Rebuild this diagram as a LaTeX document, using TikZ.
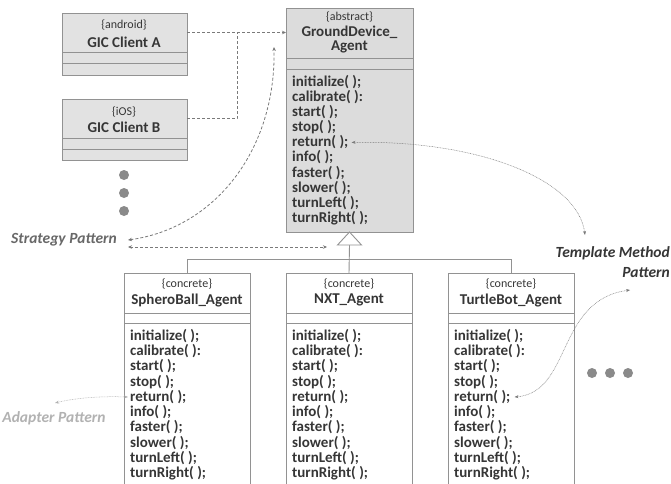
\documentclass[tikz,border=0pt]{standalone}
\usepackage{fontspec}
\setmainfont{Carlito}
\usetikzlibrary{arrows.meta}
\definecolor{edge}{HTML}{929292}
\definecolor{txt}{HTML}{363636}
\definecolor{gfill}{HTML}{DCDCDC}
\definecolor{cfill}{HTML}{E2E2E2}
\definecolor{dash}{HTML}{7A7A7A}
\definecolor{dotc}{HTML}{8A8A8A}
\tikzset{
  compart/.style={draw=edge, line width=0.9pt, anchor=north west, inner sep=0pt, outer sep=0pt},
  stereo/.style={font=\fontsize{12}{13}\selectfont, text=txt, inner sep=0pt},
  cname/.style={font=\bfseries\fontsize{15}{17}\selectfont, text=txt, inner sep=0pt, align=center},
  meth/.style={font=\bfseries\fontsize{15}{15}\selectfont, text=txt, anchor=west, inner sep=0pt},
  patt/.style={font=\bfseries\itshape\fontsize{15.5}{20}\selectfont, inner sep=0pt},
  dashconn/.style={draw=dash, line width=0.8pt, dash pattern=on 3pt off 2pt, {Stealth[length=4pt,width=3.5pt]}-{Stealth[length=4pt,width=3.5pt]}},
  dotconn/.style={draw=dash, line width=0.5pt, dash pattern=on 0.8pt off 0.8pt, {Stealth[length=4pt,width=3pt]}-{Stealth[length=4pt,width=3pt]}},
  hier/.style={draw=edge, line width=0.9pt},
  bigdot/.style={circle, fill=dotc, inner sep=0pt, minimum size=10pt},
}
\begin{document}
\begin{tikzpicture}[x=1pt, y=-1pt]
\useasboundingbox (0,0) rectangle (671,483);
\clip (0,0) rectangle (671,483);
\fill[white] (0,0) rectangle (671,483);

% GIC Client A
\node[compart, fill=cfill, minimum width=125pt, minimum height=39pt] (ah) at (62,13) {};
\node[compart, fill=cfill, minimum width=125pt, minimum height=11pt] (aa) at (ah.south west) {};
\node[compart, fill=cfill, minimum width=125pt, minimum height=12pt] (am) at (aa.south west) {};
\node[stereo] (at1) at (124,25) {\{android\}};
\node[cname] (at2) at (124,42) {GIC Client A};

% GIC Client B
\node[compart, fill=cfill, minimum width=125pt, minimum height=39pt] (bh) at (62,99) {};
\node[compart, fill=cfill, minimum width=125pt, minimum height=11pt] (ba) at (bh.south west) {};
\node[compart, fill=cfill, minimum width=125pt, minimum height=11pt] (bm) at (ba.south west) {};
\node[stereo] (bt1) at (124,112) {\{iOS\}};
\node[cname] (bt2) at (124,127) {GIC Client B};

% dots
\node[bigdot] (d1) at (124,175) {};
\node[bigdot] (d2) at (124,193) {};
\node[bigdot] (d3) at (124,211) {};
\node[bigdot] (d4) at (592,373) {};
\node[bigdot] (d5) at (610,373) {};
\node[bigdot] (d6) at (628,373) {};

% GroundDevice_Agent
\node[compart, fill=gfill, minimum width=127pt, minimum height=50pt] (gh) at (286,8) {};
\node[compart, fill=gfill, minimum width=127pt, minimum height=11pt] (ga) at (gh.south west) {};
\node[compart, fill=gfill, minimum width=127pt, minimum height=163pt] (gm) at (ga.south west) {};
\node[stereo] (gt1) at (349.5,17) {\{abstract\}};
\node[cname] (gt2) at (349.5,32) {GroundDevice\_};
\node[cname] (gt3) at (349.5,47) {Agent};
\foreach \m [count=\i] in {{initialize( );},{calibrate( ):},{start( );},{stop( );},{return( );},{info( );},{faster( );},{slower( );},{turnLeft( );},{turnRight( );}}
  \node[meth] (g-\i) at (292,{82+15.1*(\i-1)}) {\m};

% concrete classes
\foreach \nm/\x/\title in {s/124/SpheroBall\_Agent, n/286/NXT\_Agent, t/448/TurtleBot\_Agent}{
  \node[compart, fill=white, minimum width=126pt, minimum height=40pt] (\nm h) at (\x,273) {};
  \node[compart, fill=white, minimum width=126pt, minimum height=10pt] (\nm a) at (\nm h.south west) {};
  \node[compart, fill=white, minimum width=126pt, minimum height=180pt] (\nm m) at (\nm a.south west) {};
  \node[stereo] (\nm t1) at ({\x+63},284) {\{concrete\}};
  \node[cname] (\nm t2) at ({\x+63},300) {\title};
  \foreach \m [count=\i] in {{initialize( );},{calibrate( ):},{start( );},{stop( );},{return( );},{info( );},{faster( );},{slower( );},{turnLeft( );},{turnRight( );}}
    \node[meth] (\nm-\i) at ({\x+6},{336+15.25*(\i-1)}) {\m};
}

% inheritance
\coordinate (tri) at (gm.south |- 0,245);
\coordinate (bus) at (gm.south |- 0,259);
\draw[hier] (tri) -- (nh.north);
\draw[hier] (sh.north) -- (sh.north |- bus) -- (th.north |- bus) -- (th.north);
\draw[hier, fill=white] (gm.south) -- ([xshift=-12pt]tri) -- ([xshift=12pt]tri) -- cycle;

% client dependencies
\draw[draw=dash, line width=0.8pt, dash pattern=on 3pt off 2pt, -{Stealth[length=4pt,width=3.5pt]}] (ah.east) -- (gh.west |- ah.east);
\coordinate (bj) at (237,118.5);
\draw[draw=dash, line width=0.8pt, dash pattern=on 3pt off 2pt] (bh.east) -- (bj) -- (bj |- ah.east);

% pattern labels
\node[patt, text=dash!85!black] (strat) at (64,240) {Strategy Pattern};
\node[patt, text=black!30] (adapt) at (54,418) {Adapter Pattern};
\node[patt, text=txt, align=right, anchor=north east] (templ) at (670,246) {Template Method\\Pattern};

\coordinate (s1) at (128,240);
\coordinate (s2) at (274,47);
\coordinate (s3) at (128,247);
\coordinate (s4) at (327,247);
\draw[dashconn] (s1) .. controls (215,228) and (276,150) .. (s2);
\draw[dashconn] (s3) -- (s4);

\coordinate (t1) at (585,235);
\coordinate (t2) at (630,290);
\draw[dotconn] ([xshift=3pt]g-5.east) .. controls (480,140) and (578,180) .. (t1);
\draw[dotconn] ([xshift=4pt]t-5.east) .. controls (572,392) and (556,300) .. (t2);

\coordinate (a1) at (55,403);
\draw[dotconn, draw=black!30] ([xshift=-2pt]s-5.west) .. controls (100,396) and (75,398) .. (a1);
\end{tikzpicture}
\end{document}
